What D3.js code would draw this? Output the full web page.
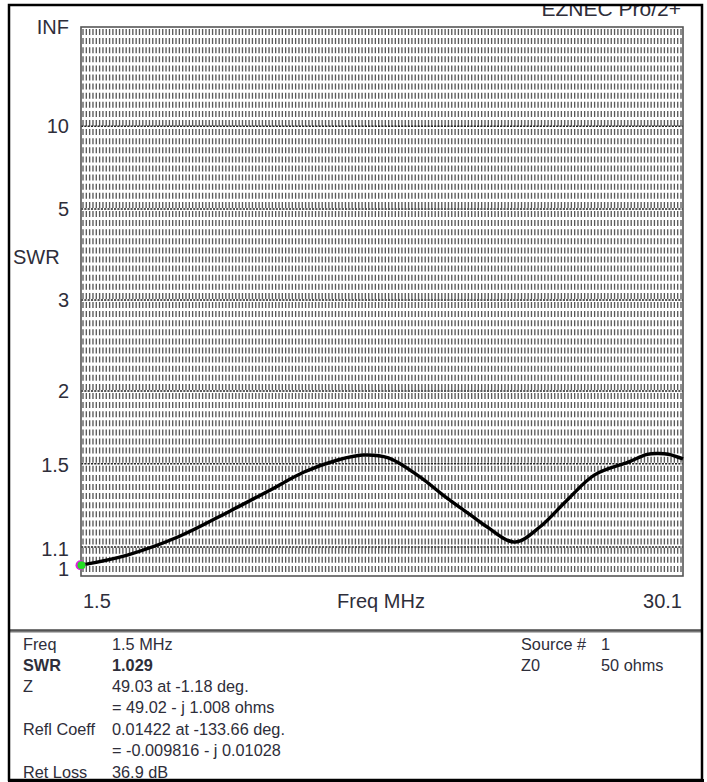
<!DOCTYPE html>
<html><head><meta charset="utf-8">
<script src="https://cdn.jsdelivr.net/npm/d3@7"></script>
<style>body{margin:0;background:#fff}svg{display:block}text{font-family:"Liberation Sans",Arial,sans-serif}</style>
</head><body>
<svg id="c" width="707" height="782"></svg>
<script>
// ---- data ----
const freqMHz = [1.5, 3.7, 6.1, 8.5, 10.5, 12.1, 13.7, 14.9, 16.1, 17.6, 18.7, 20.0, 20.8, 22.1, 23.3, 24.6, 25.9, 27.5, 28.4, 28.9, 29.4, 30.1];
const swrVals = [1.029, 1.068, 1.141, 1.252, 1.359, 1.454, 1.522, 1.551, 1.534, 1.427, 1.333, 1.238, 1.184, 1.120, 1.184, 1.309, 1.438, 1.510, 1.555, 1.560, 1.556, 1.528];
const yTickVals = [Infinity, 10, 5, 3, 2, 1.5, 1.1, 1];
const yTickLabels = ["INF", "10", "5", "3", "2", "1.5", "1.1", "1"];
const gridTickVals = [10, 5, 3, 2, 1.5, 1.1];
const xTickVals = [1.5, 30.1];
const xTickLabels = ["1.5", "30.1"];
const infoLeftLabels = ["Freq", "SWR", "Z", "", "Refl Coeff", "", "Ret Loss"];
const infoLeftValues = ["1.5 MHz", "1.029", "49.03 at -1.18 deg.", "= 49.02 - j 1.008 ohms", "0.01422 at -133.66 deg.", "= -0.009816 - j 0.01028", "36.9 dB"];
const infoRightLabels = ["Source #", "Z0"];
const infoRightValues = ["1", "50 ohms"];

const svg = d3.select("#c");
const L = 81, R = 683, T = 27, B = 573;
const gamma = s => s === Infinity ? 1 : (s - 1) / (s + 1);
const x = d3.scaleLinear().domain([1.5, 30.1]).range([L, R]);
const y = d3.scaleLinear().domain([0, 1]).range([B, T]);
const txt = "#2e2e3a";

// title (clipped by top frame)
svg.append("text").attr("x", 681).attr("y", 16).attr("text-anchor", "end")
  .attr("font-size", 21).attr("fill", txt).text("EZNEC Pro/2+");
svg.append("rect").attr("x", 0).attr("y", 0).attr("width", 707).attr("height", 5).attr("fill", "#fff");

// grid: dense dotted vertical lines
const g = svg.append("g");
const nCols = 181;
const cols = d3.range(nCols).map(i => L + 2 + i * (R - L - 4) / (nCols - 1));
g.selectAll("line.v").data(cols).join("line")
  .attr("x1", d => d).attr("x2", d => d).attr("y1", T + 2).attr("y2", B + 2)
  .attr("stroke", "#5a5a5a").attr("stroke-width", 1.35)
  .attr("stroke-dasharray", "6 3.1");
// major horizontal dotted lines
g.selectAll("line.h").data(gridTickVals).join("line")
  .attr("x1", L).attr("x2", R)
  .attr("y1", d => y(gamma(d))).attr("y2", d => y(gamma(d)))
  .attr("stroke", "#222").attr("stroke-width", 1.5)
  .attr("stroke-dasharray", "2.2 1.1");
// plot frame
svg.append("rect").attr("x", L).attr("y", T).attr("width", R - L).attr("height", B + 3 - T)
  .attr("fill", "none").attr("stroke", "#555").attr("stroke-width", 1.6);

// y tick labels
const yOff = [0, 0, 0, 0, 0, 1, 2, -4];
svg.selectAll("text.yt").data(yTickVals).join("text")
  .attr("x", 69).attr("y", (d, i) => y(gamma(d)) + yOff[i])
  .attr("dy", "0.36em").attr("text-anchor", "end").attr("font-size", 20).attr("fill", txt)
  .text((d, i) => yTickLabels[i]);
svg.append("text").attr("x", 13).attr("y", 257).attr("dy", "0.36em")
  .attr("font-size", 20).attr("fill", txt).text("SWR");

// x tick labels
svg.selectAll("text.xt").data(xTickVals).join("text")
  .attr("x", (d, i) => i === 0 ? x(d) + 2 : x(d) - 1).attr("y", 601).attr("dy", "0.36em")
  .attr("text-anchor", (d, i) => i === 0 ? "start" : "end")
  .attr("font-size", 20).attr("fill", txt).text((d, i) => xTickLabels[i]);
svg.append("text").attr("x", 381).attr("y", 601).attr("dy", "0.36em").attr("text-anchor", "middle")
  .attr("font-size", 20).attr("fill", txt).text("Freq MHz");

// curve
const data = freqMHz.map((f, i) => [f, swrVals[i]]);
const line = d3.line().x(d => x(d[0])).y(d => y(gamma(d[1]))).curve(d3.curveCatmullRom.alpha(0.5));
svg.append("path").datum(data).attr("d", line).attr("fill", "none")
  .attr("stroke", "#000").attr("stroke-width", 3.4).attr("stroke-linejoin", "round");

// marker at current frequency
const mx = x(freqMHz[0]), my = y(gamma(swrVals[0]));
svg.append("circle").attr("cx", mx - 0.5).attr("cy", my).attr("r", 5).attr("fill", "#e020e0");
svg.append("circle").attr("cx", mx + 0.5).attr("cy", my).attr("r", 4).attr("fill", "#22dd22");

// separator & frame
svg.append("line").attr("x1", 9).attr("x2", 702).attr("y1", 631).attr("y2", 631)
  .attr("stroke", "#777").attr("stroke-width", 3);
svg.append("line").attr("x1", 9).attr("x2", 702).attr("y1", 630).attr("y2", 630)
  .attr("stroke", "#333").attr("stroke-width", 1);
svg.append("rect").attr("x", 9).attr("y", 5).attr("width", 693).attr("height", 775)
  .attr("fill", "none").attr("stroke", "#000").attr("stroke-width", 2.5);

// info panel
const rowY = [644, 665.5, 686.5, 707.5, 729.5, 750.5, 772];
const info = svg.append("g").attr("font-size", 16.3).attr("fill", txt);
info.selectAll("text.l").data(infoLeftLabels).join("text")
  .attr("x", 23).attr("y", (d, i) => rowY[i]).attr("dy", "0.36em")
  .attr("font-weight", (d, i) => i === 1 ? "bold" : "normal").text(d => d);
info.selectAll("text.v").data(infoLeftValues).join("text")
  .attr("x", 112).attr("y", (d, i) => rowY[i]).attr("dy", "0.36em")
  .attr("font-weight", (d, i) => i === 1 ? "bold" : "normal").text(d => d);
info.selectAll("text.rl").data(infoRightLabels).join("text")
  .attr("x", 521).attr("y", (d, i) => rowY[i]).attr("dy", "0.36em").text(d => d);
info.selectAll("text.rv").data(infoRightValues).join("text")
  .attr("x", 601).attr("y", (d, i) => rowY[i]).attr("dy", "0.36em").text(d => d);
// redraw bottom edge over the last clipped row
svg.append("rect").attr("x", 8).attr("y", 779).attr("width", 696).attr("height", 3).attr("fill", "#000");
</script>
</body></html>
